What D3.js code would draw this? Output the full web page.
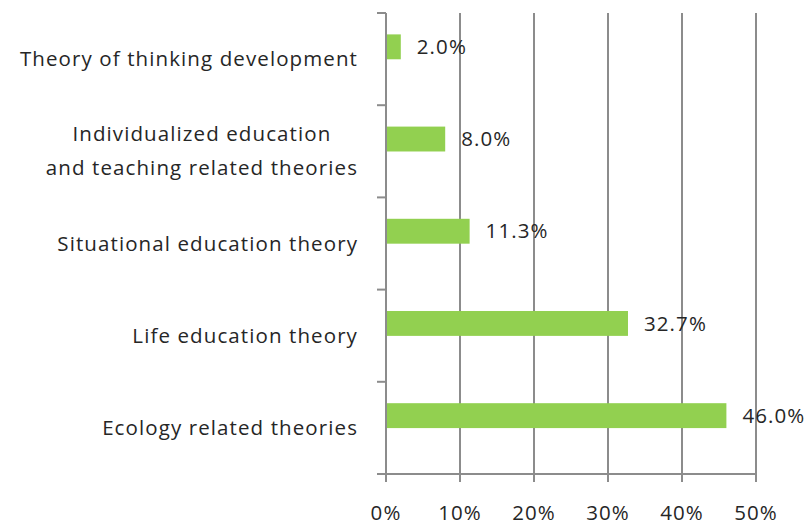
<!DOCTYPE html>
<html><head><meta charset="utf-8">
<script src="https://cdn.jsdelivr.net/npm/d3@7"></script>
<style>body{margin:0;background:#fff}svg{display:block}text{font-family:"Open Sans",Lato,sans-serif;letter-spacing:1.1px}</style>
</head><body><svg id="c" width="812" height="528"></svg>
<script>
const categories = [["Theory of thinking development"],["Individualized education","and teaching related theories"],["Situational education theory"],["Life education theory"],["Ecology related theories"]];
const values = [2.0, 8.0, 11.3, 32.7, 46.0];
const valueLabels = ["2.0%","8.0%","11.3%","32.7%","46.0%"];
const xTicks = [0,10,20,30,40,50];

const svg = d3.select("#c");
const x = d3.scaleLinear().domain([0,50]).range([386,756]);
const y = d3.scaleBand().domain(d3.range(categories.length)).range([13,474]).padding(0);
const bw = y.bandwidth();
const fs = 20.5;
const tc = "#262626";

// gridlines
svg.append("g").selectAll("line").data(xTicks.slice(1)).join("line")
  .attr("x1",d=>x(d)).attr("x2",d=>x(d)).attr("y1",13).attr("y2",482)
  .attr("stroke","#8c8c8c").attr("stroke-width",2);
// y axis
svg.append("line").attr("x1",386).attr("x2",386).attr("y1",13).attr("y2",482).attr("stroke","#8c8c8c").attr("stroke-width",2);
svg.append("g").selectAll("line").data(d3.range(categories.length+1)).join("line")
  .attr("x1",377).attr("x2",386).attr("y1",d=>13+d*bw).attr("y2",d=>13+d*bw)
  .attr("stroke","#8c8c8c").attr("stroke-width",2);
// x axis
svg.append("line").attr("x1",377).attr("x2",756).attr("y1",474).attr("y2",474).attr("stroke","#8c8c8c").attr("stroke-width",2);
svg.append("g").selectAll("line").data(xTicks).join("line")
  .attr("x1",d=>x(d)).attr("x2",d=>x(d)).attr("y1",474).attr("y2",482).attr("stroke","#8c8c8c").attr("stroke-width",2);
svg.append("g").selectAll("text").data(xTicks).join("text")
  .attr("x",d=>x(d)).attr("y",520).attr("text-anchor","middle")
  .attr("font-size",fs).attr("fill",tc).text(d=>d+"%");

// bars
svg.append("g").selectAll("rect").data(values).join("rect")
  .attr("x",x(0)+1).attr("y",(d,i)=>y(i)+bw*0.232).attr("height",bw*0.27)
  .attr("width",d=>x(d)-x(0)-1).attr("fill","#92d050");
svg.append("g").selectAll("text").data(values).join("text")
  .attr("x",d=>x(d)+16).attr("y",(d,i)=>y(i)+bw*0.232+bw*0.135).attr("dy","0.35em")
  .attr("font-size",fs).attr("fill",tc).text((d,i)=>valueLabels[i]);

// category labels (multi-line labels centred within a right-aligned block)
const cl = svg.append("g").selectAll("text").data(categories).join("text")
  .attr("text-anchor","middle").attr("font-size",fs).attr("fill",tc);
cl.each(function(lines,i){
  const t=d3.select(this); const lh=34; const off=-(lines.length-1)*lh/2;
  const spans = lines.map((l,k)=>t.append("tspan").attr("x",0).attr("y",off+k*lh).attr("dy","0.35em").text(l));
  const w = d3.max(spans, s=>s.node().getComputedTextLength());
  t.attr("transform",`translate(${358-w/2},${y(i)+bw/2})`);
});
</script></body></html>
